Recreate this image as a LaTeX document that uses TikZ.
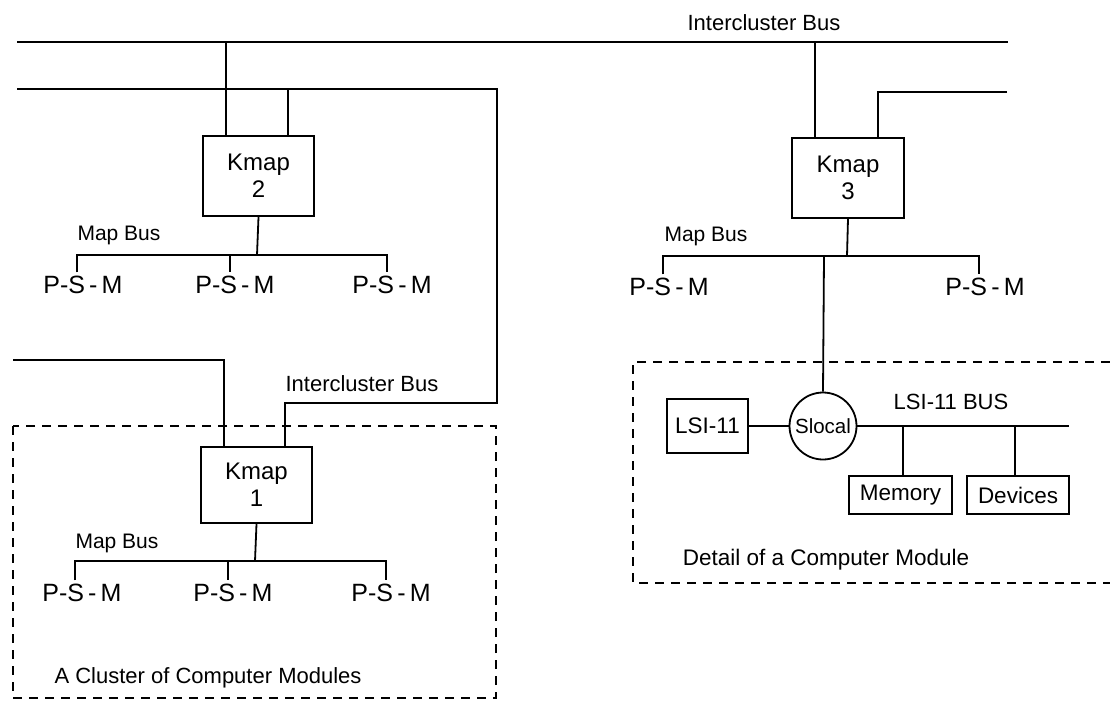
\documentclass[tikz,border=0pt]{standalone}
\usepackage{fontspec}
\setmainfont{Liberation Sans}
\begin{document}
\begin{tikzpicture}[x=1pt,y=-1pt, line width=1.8pt,
  box/.style={draw, rectangle, inner sep=0pt},
  kmap/.style={box, minimum width=111pt, align=center, font=\fontsize{24}{27}\selectfont},
  psm/.style={inner sep=3pt, font=\fontsize{25}{27}\selectfont},
  lbl/.style={inner sep=0pt, font=\fontsize{21}{23}\selectfont},
  unit/.style={box, font=\fontsize{22.5}{24}\selectfont},
  region/.style={dash pattern=on 9pt off 7pt, line width=1.5pt}]
\useasboundingbox (0,0) rectangle (1110,702);
% Kmap boxes
\node[kmap, minimum height=80pt] (k2) at (258.5,176) {Kmap\\2};
\node[kmap, minimum height=80pt, minimum width=112pt] (k3) at (848,178) {Kmap\\3};
\node[kmap, minimum height=76pt] (k1) at (256.5,485) {Kmap\\1};
% P-S-M
\node[psm] (p21) at (83,285) {P-S\,-\,M};
\node[psm] (p22) at (235,285) {P-S\,-\,M};
\node[psm] (p23) at (392,285) {P-S\,-\,M};
\node[psm] (p11) at (82,593) {P-S\,-\,M};
\node[psm] (p12) at (233,593) {P-S\,-\,M};
\node[psm] (p13) at (391,593) {P-S\,-\,M};
\node[psm] (p31) at (669,287) {P-S\,-\,M};
\node[psm] (p32) at (985,287) {P-S\,-\,M};
% labels
\node[lbl, font=\fontsize{22}{24}\selectfont] (ib1) at (764,23) {Intercluster Bus};
\node[lbl, font=\fontsize{22}{24}\selectfont] (ib2) at (362,384) {Intercluster Bus};
\node[lbl] (mb2) at (119,235) {Map Bus};
\node[lbl] (mb1) at (117,543) {Map Bus};
\node[lbl] (mb3) at (706,236) {Map Bus};
\node[lbl, font=\fontsize{22}{24}\selectfont] (cl) at (208,678) {A Cluster of Computer Modules};
\node[lbl, font=\fontsize{22.5}{24}\selectfont] (dt) at (826,560) {Detail of a Computer Module};
\node[lbl, font=\fontsize{22}{24}\selectfont] (lb) at (951,402) {LSI-11 BUS};
% computer module detail
\node[unit, minimum width=81pt, minimum height=54pt] (lsi) at (707.5,426) {LSI-11};
\node[draw, circle, inner sep=0pt, minimum size=67pt, font=\fontsize{20.5}{22}\selectfont] (sl) at (823,426) {Slocal};
\node[unit, minimum width=103pt, minimum height=38pt] (mem) at (900.5,495) {Memory};
\node[unit, minimum width=102pt, minimum height=38pt] (dev) at (1018,495) {Devices};
% coordinates
\coordinate (t1L) at (17,42);
\coordinate (t1R) at (1008,42);
\coordinate (t2L) at (17,89);
\coordinate (t2a) at (497,89);
\coordinate (t2b) at (497,403);
\coordinate (t2c) at (285,403);
\coordinate (t3R) at (1007,92);
\coordinate (t3a) at (878,92);
\coordinate (t4L) at (13,360);
\coordinate (t4a) at (224,360);
\coordinate (m2) at (257,255);
\coordinate (m1) at (255,561);
\coordinate (m3) at (847,256);
\coordinate (lbR) at (1069,426);
% intercluster buses
\draw (t1L) -- (t1R);
\draw (t2L) -- (t2a) -- (t2b) -- (t2c) -- (k1.north -| t2c);
\draw (226,42) -- (k2.north -| 226,0);
\draw (288,89) -- (k2.north -| 288,0);
\draw (815,42) -- (k3.north -| 815,0);
\draw (t3R) -- (t3a) -- (k3.north -| t3a);
\draw (t4L) -- (t4a) -- (k1.north -| t4a);
% map buses
\draw (k2.south) -- (m2);
\draw (p21.north -| 77,0) -- (77,255) -- (387,255) -- (p23.north -| 387,0);
\draw (230,255) -- (p22.north -| 230,0);
\draw (k1.south) -- (m1);
\draw (p11.north -| 75,0) -- (75,561) -- (386,561) -- (p13.north -| 386,0);
\draw (228,561) -- (p12.north -| 228,0);
\draw (k3.south) -- (m3);
\draw (p31.north -| 663,0) -- (663,256) -- (979,256) -- (p32.north -| 979,0);
\draw (824,256) -- (sl.north);
% module detail
\draw (lsi.east) -- (sl.west);
\draw (sl.east) -- (lbR);
\draw (903,426) -- (mem.north -| 903,0);
\draw (1015,426) -- (dev.north -| 1015,0);
% dashed regions
\draw[region] (13,426) rectangle (496,698);
\draw[region] (1110,362) -- (633,362) -- (633,583) -- (1110,583);
\end{tikzpicture}
\end{document}
